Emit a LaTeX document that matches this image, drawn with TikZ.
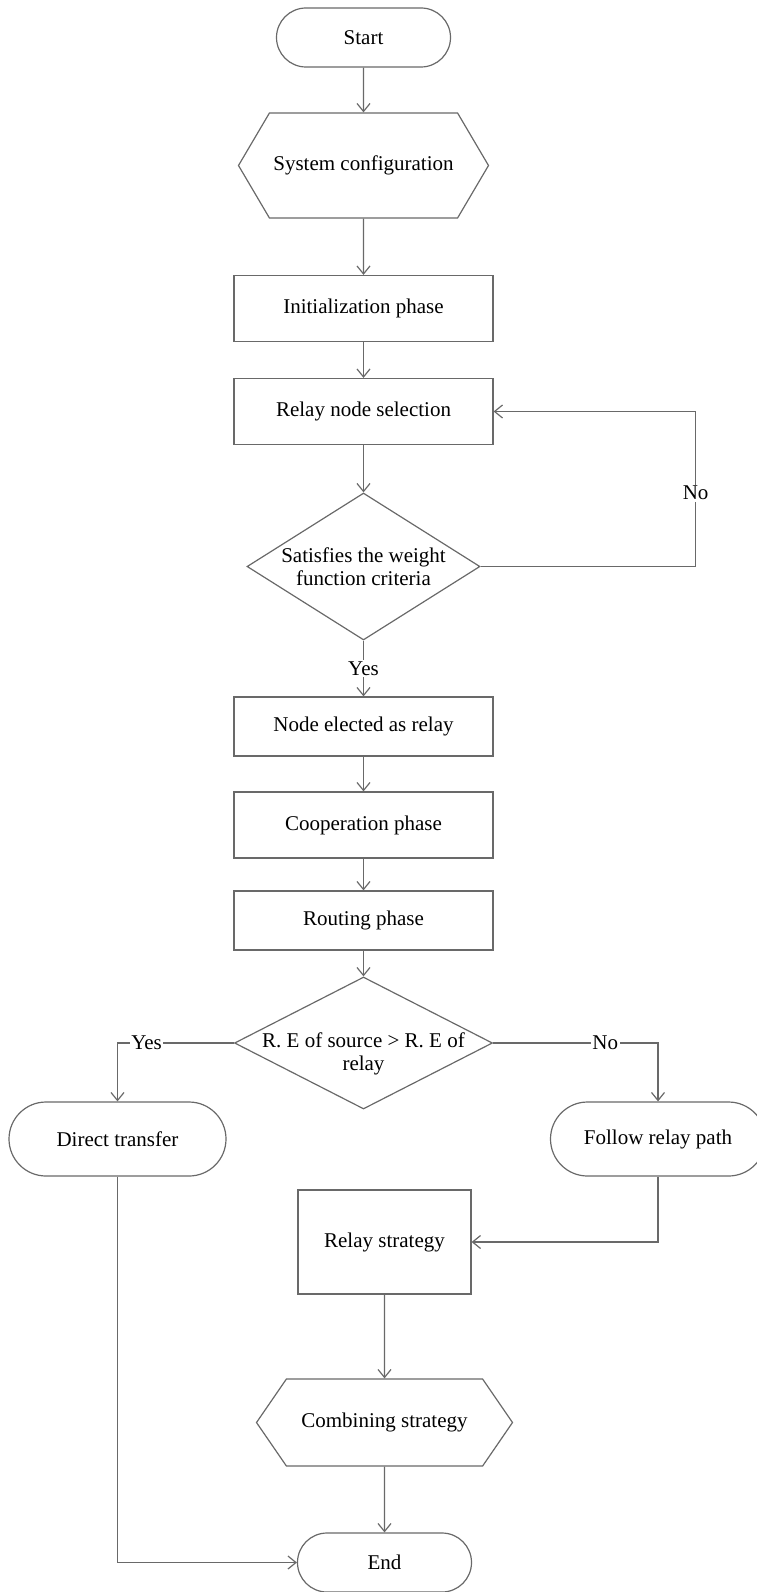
\documentclass[tikz,border=0pt]{standalone}
\usepackage{fontspec}
\setmainfont{Liberation Serif}
\usetikzlibrary{shapes.geometric, shapes.symbols, arrows.meta}
\definecolor{flowgray}{RGB}{105,105,105}
\tikzstyle{terminal} = [
    rectangle,
    rounded corners=29.5pt,
    minimum width=174pt,
    minimum height=59pt,
    draw=flowgray,
    line width=1.2pt
]
\tikzstyle{preparation} = [
    signal,
    signal to=west and east,
    draw=flowgray,
    line width=1.2pt
]
\tikzstyle{process} = [
    rectangle,
    minimum width=259pt,
    minimum height=66pt,
    draw=flowgray,
    line width=1.2pt
]
\tikzstyle{decision} = [
    diamond,
    align=center,
    inner sep=0pt,
    draw=flowgray,
    line width=1.2pt
]
\tikzstyle{answer} = [fill=white, inner sep=1.5pt]
\tikzstyle{arrow} = [draw=flowgray, line width=1.2pt, -{Straight Barb[length=8pt,width=13pt]}]

\begin{document}
\begin{tikzpicture}[x=1pt, y=1pt, font=\fontsize{21}{23}\selectfont]
\useasboundingbox (0,0) rectangle (757,-1592);

\node (start) [terminal] at (363.5,-37.5) {Start};

\node (syscfg) [preparation, below of=start, node distance=128pt,
    minimum width=250pt, minimum height=105pt, signal pointer angle=119]
{System configuration};

\node (init) [process, below of=syscfg, node distance=143pt]
{Initialization phase};

\node (relaysel) [process, below of=init, node distance=103pt]
{Relay node selection};

\node (dec1) [decision, below of=relaysel, node distance=155pt,
    minimum width=233pt, minimum height=147pt, aspect=1.585]
{Satisfies the weight\\
function criteria};

\node (elected) [process, below of=dec1, node distance=160pt, minimum height=59pt]
{Node elected as relay};

\node (coop) [process, below of=elected, node distance=98.5pt]
{Cooperation phase};

\node (routing) [process, below of=coop, node distance=95.5pt, minimum height=59pt]
{Routing phase};

\node (dec2) [decision, below of=routing, node distance=122.5pt,
    minimum width=258pt, minimum height=132pt] {};
\node (dec2txt) [align=center] at ([yshift=-11pt]dec2.center)
{R. E of source > R. E of\\
relay};

\node (direct) [terminal, below of=dec2, node distance=96pt, xshift=-246pt,
    minimum width=217pt, minimum height=74pt, rounded corners=37pt]
{Direct transfer};

\node (follow) [terminal, below of=dec2, node distance=96pt, xshift=294.5pt,
    minimum width=215pt, minimum height=74pt, rounded corners=37pt]
{Follow relay path};

\node (relaystrat) [process, below of=dec2, node distance=199pt, xshift=21pt,
    minimum width=173pt, minimum height=104pt]
{Relay strategy};

\node (combine) [preparation, below of=relaystrat, node distance=180.5pt,
    minimum width=256pt, minimum height=87pt, signal pointer angle=111]
{Combining strategy};

\node (end) [terminal, below of=combine, node distance=140pt]
{End};

% Arrows
\draw [arrow] (start) -- (syscfg);
\draw [arrow] (syscfg) -- (init);
\draw [arrow] (init) -- (relaysel);
\draw [arrow] (relaysel) -- (dec1);
\draw [arrow] (dec1.east) -- ++(215,0) |- node[answer, pos=0.237] (no1) {No} (relaysel.east);
\draw [arrow] (dec1) -- node[answer] (yes1) {Yes} (elected);
\draw [arrow] (elected) -- (coop);
\draw [arrow] (coop) -- (routing);
\draw [arrow] (routing) -- (dec2);
\draw [arrow] (dec2.west) -| node[answer, pos=0.375] (yes2) {Yes} (direct.north);
\draw [arrow] (dec2.east) -| node[answer, pos=0.34] (no2) {No} (follow.north);
\draw [arrow] (follow.south) |- (relaystrat.east);
\draw [arrow] (relaystrat) -- (combine);
\draw [arrow] (combine) -- (end);
\draw [arrow] (direct.south) |- (end.west);

\end{tikzpicture}
\end{document}
